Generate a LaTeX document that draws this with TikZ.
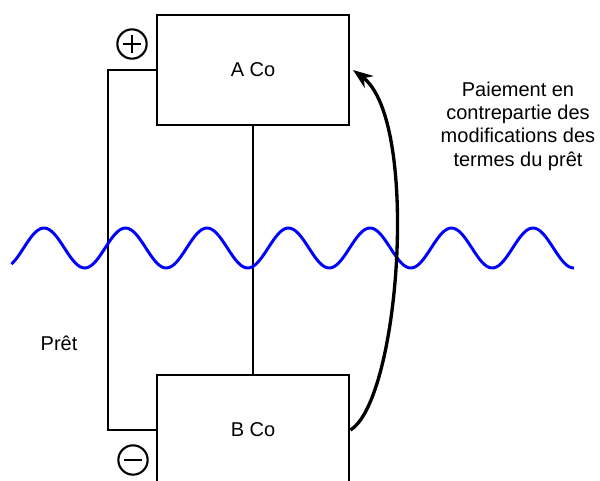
\documentclass[tikz,border=0pt]{standalone}
\usepackage{fontspec}
\setmainfont{Liberation Sans}
\usetikzlibrary{arrows.meta}

\begin{document}
\begin{tikzpicture}[x=0.75pt, y=-0.75pt,
    every node/.style={font=\fontsize{15}{17.5}\selectfont},
    company/.style={draw, line width=2pt, minimum width=144pt, minimum height=82.5pt},
    sign/.style={draw, circle, line width=1.6pt, minimum size=22pt, inner sep=0pt},
    wave/.style={blue, line width=2.2pt}]
            \useasboundingbox (0,0) rectangle (600,480);
            \clip (0,0) rectangle (600,480);

            \node[company] (A) at (253, 70) {A Co};
            \node[company] (B) at (253, 430) {B Co};
            \node[sign, path picture={
                \draw[line width=2pt] ([xshift=4pt]path picture bounding box.west) -- ([xshift=-4pt]path picture bounding box.east);
                \draw[line width=2pt] ([yshift=-4pt]path picture bounding box.north) -- ([yshift=4pt]path picture bounding box.south);
            }] (plus) at (132, 44) {};
            \node[sign, path picture={
                \draw[line width=2pt] ([xshift=4pt]path picture bounding box.west) -- ([xshift=-4pt]path picture bounding box.east);
            }] (minus) at (133, 460) {};
            \node (loan) at (59, 343) {Prêt};
            \node[align=center] (payment) at (518, 126)
            {Paiement en\\contrepartie des\\modifications des\\termes du prêt};

            \draw[line width=1.6pt] (A.west) -- ++(-48, 0) |- (B.west);
            \draw[line width=1.6pt] (A.south) -- (B.north);
            \draw[wave] plot[domain=11.5:574, samples=240] (\x, {248 - 20*cos((\x - 44)/81.5*360)});
            \draw[line width=2.5pt, -{Stealth[length=15pt, width=11pt]}]
                (B.east) .. controls (400, 400) and (420, 120) .. ([xshift=2pt]A.east);
        \end{tikzpicture}
\end{document}
